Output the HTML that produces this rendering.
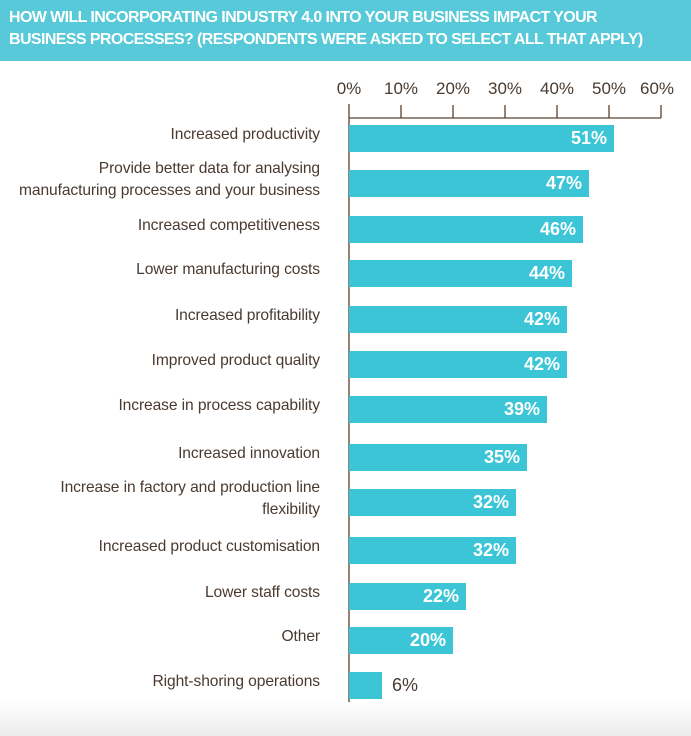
<!DOCTYPE html>
<html><head><meta charset="utf-8"><style>
body{margin:0;width:691px;height:736px;background:#fff;font-family:"Liberation Sans",sans-serif;position:relative;overflow:hidden}
.hdr{position:absolute;left:0;top:0;width:691px;height:61px;background:#57c9d8;color:#fff;font-weight:bold;font-size:16px;line-height:22px;padding:7px 0 0 9px;box-sizing:border-box;letter-spacing:-0.6px;white-space:nowrap}
.lab{position:absolute;right:371px;text-align:right;color:#4a3a30;font-size:15.6px;line-height:22px;white-space:nowrap;letter-spacing:-0.1px}
.bar{position:absolute;left:349px;height:27px;background:#3cc5d6}
.val{position:absolute;color:#fff;font-weight:bold;font-size:18px;text-align:right}
.tk{position:absolute;font-size:17px;color:#4a3a30;transform:translateX(-50%);top:79px}
.foot{position:absolute;left:0;top:700px;width:691px;height:36px;background:linear-gradient(#fff,#ececec)}
</style></head><body>
<div class="hdr">HOW WILL INCORPORATING INDUSTRY 4.0 INTO YOUR BUSINESS IMPACT YOUR<br>BUSINESS PROCESSES? (RESPONDENTS WERE ASKED TO SELECT ALL THAT APPLY)</div>
<div class="foot"></div>
<svg style="position:absolute;left:0;top:0" width="691" height="736">
<line x1="349" y1="118" x2="661" y2="118" stroke="#5a4030" stroke-width="1.3"/>
<line x1="349" y1="104" x2="349" y2="702" stroke="#5a4030" stroke-width="1.3"/>
<g stroke="#5a4030" stroke-width="1.3">
<line x1="401" y1="105" x2="401" y2="118"/><line x1="453" y1="105" x2="453" y2="118"/><line x1="505" y1="105" x2="505" y2="118"/><line x1="557" y1="105" x2="557" y2="118"/><line x1="609" y1="105" x2="609" y2="118"/><line x1="661" y1="105" x2="661" y2="118"/></g>
</svg>
<div class="tk" style="left:349px">0%</div><div class="tk" style="left:401px">10%</div><div class="tk" style="left:453px">20%</div><div class="tk" style="left:505px">30%</div><div class="tk" style="left:557px">40%</div><div class="tk" style="left:609px">50%</div><div class="tk" style="left:657px">60%</div>
<div id="c"></div>
<script>
var d=[["Increased productivity",51,138,614],["Provide better data for analysing<br>manufacturing processes and your business",47,183,589],["Increased competitiveness",46,229,583],["Lower manufacturing costs",44,273,572],["Increased profitability",42,319,567],["Improved product quality",42,364,567],["Increase in process capability",39,409,547],["Increased innovation",35,457,527],["Increase in factory and production line<br>flexibility",32,502,516],["Increased product customisation",32,550,516],["Lower staff costs",22,596,466],["Other",20,640,453],["Right-shoring operations",6,685,382]];
var h="";d.forEach(function(r){var w=r[3]-349,c=r[2];var two=r[0].indexOf("<br>")>0;
h+='<div class="lab" style="top:'+(c-(two?22:11)-3)+'px">'+r[0]+'</div>';
h+='<div class="bar" style="top:'+(c-13)+'px;width:'+w+'px"></div>';
if(r[1]>10)h+='<div class="val" style="top:'+(c-10)+'px;left:'+(349+w-60)+'px;width:53px">'+r[1]+'%</div>';
else h+='<div class="val" style="top:'+(c-10)+'px;left:'+(349+w+10)+'px;color:#4a3a30;font-weight:normal;text-align:left">'+r[1]+'%</div>';});
document.getElementById("c").innerHTML=h;
</script>
</body></html>
